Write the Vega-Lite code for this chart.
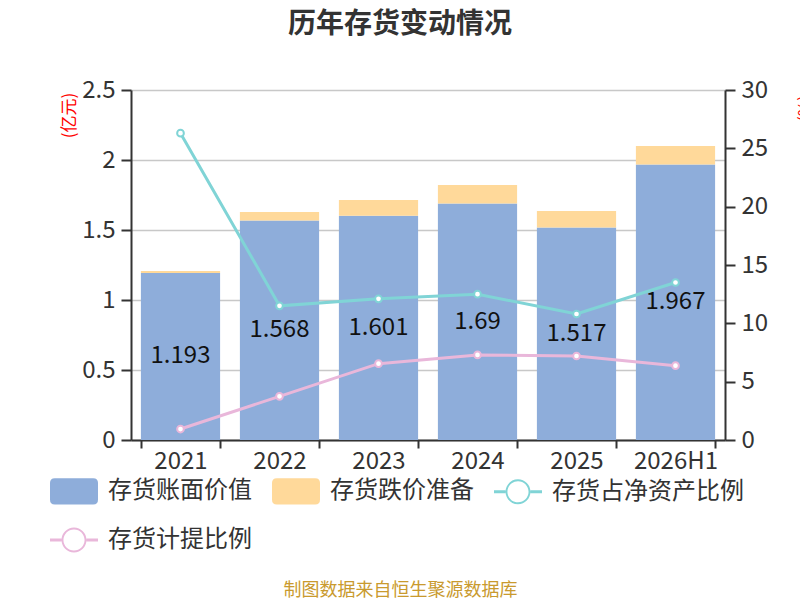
{
  "$schema": "https://vega.github.io/schema/vega-lite/v6.json",
  "autosize": {"type": "none"},
  "padding": {"left": 131, "top": 90, "right": 75, "bottom": 160},
  "width": 594,
  "height": 350,
  "background": "white",
  "title": {
    "text": "历年存货变动情况",
    "fontSize": 28,
    "fontWeight": "bold",
    "color": "#333333",
    "anchor": "middle",
    "dx": -28,
    "offset": 39
  },
  "config": {
    "font": "Noto Sans CJK SC",
    "view": {"stroke": null},
    "axis": {
      "labelFontSize": 24,
      "labelColor": "#333333",
      "domainColor": "#333333",
      "domainWidth": 2,
      "tickColor": "#333333",
      "tickWidth": 2
    }
  },
  "datasets": {
    "bars": [
      {"year": "2021", "type": "存货账面价值", "value": 1.193},
      {"year": "2021", "type": "存货跌价准备", "value": 0.014},
      {"year": "2022", "type": "存货账面价值", "value": 1.568},
      {"year": "2022", "type": "存货跌价准备", "value": 0.061},
      {"year": "2023", "type": "存货账面价值", "value": 1.601},
      {"year": "2023", "type": "存货跌价准备", "value": 0.113},
      {"year": "2024", "type": "存货账面价值", "value": 1.69},
      {"year": "2024", "type": "存货跌价准备", "value": 0.131},
      {"year": "2025", "type": "存货账面价值", "value": 1.517},
      {"year": "2025", "type": "存货跌价准备", "value": 0.119},
      {"year": "2026H1", "type": "存货账面价值", "value": 1.967},
      {"year": "2026H1", "type": "存货跌价准备", "value": 0.133}
    ],
    "ratios": [
      {"year": "2021", "type": "存货占净资产比例", "ratio": 26.3},
      {"year": "2022", "type": "存货占净资产比例", "ratio": 11.5},
      {"year": "2023", "type": "存货占净资产比例", "ratio": 12.1},
      {"year": "2024", "type": "存货占净资产比例", "ratio": 12.5},
      {"year": "2025", "type": "存货占净资产比例", "ratio": 10.8},
      {"year": "2026H1", "type": "存货占净资产比例", "ratio": 13.5},
      {"year": "2021", "type": "存货计提比例", "ratio": 0.94},
      {"year": "2022", "type": "存货计提比例", "ratio": 3.74},
      {"year": "2023", "type": "存货计提比例", "ratio": 6.54},
      {"year": "2024", "type": "存货计提比例", "ratio": 7.29},
      {"year": "2025", "type": "存货计提比例", "ratio": 7.2},
      {"year": "2026H1", "type": "存货计提比例", "ratio": 6.37}
    ]
  },
  "encoding": {
    "x": {
      "field": "year",
      "type": "nominal",
      "sort": null,
      "scale": {"paddingInner": 0.2, "paddingOuter": 0.1},
      "axis": {
        "title": "制图数据来自恒生聚源数据库",
        "titleFontSize": 18,
        "titleFontWeight": "normal",
        "titleColor": "#C99A2E",
        "titleX": 269,
        "titleY": 150,
        "titleBaseline": "middle",
        "titleAnchor": null,
        "labelAngle": 0,
        "labelPadding": 1,
        "tickSize": 8,
        "tickBand": "extent"
      }
    }
  },
  "layer": [
    {
      "layer": [
        {
          "data": {"name": "bars"},
          "mark": {"type": "bar"},
          "encoding": {
            "y": {
              "field": "value",
              "type": "quantitative",
              "stack": "zero",
              "scale": {"domain": [0, 2.5], "nice": false},
              "axis": {
                "values": [0, 0.5, 1, 1.5, 2, 2.5],
                "format": "~g",
                "grid": true,
                "gridColor": "#c8c8c8",
                "gridWidth": 1.5,
                "tickSize": 10,
                "labelPadding": 6,
                "title": "(亿元)",
                "titleColor": "#ff0000",
                "titleFontSize": 17,
                "titleFontWeight": "normal",
                "titleAngle": -90,
                "titleAlign": "center",
                "titleBaseline": "middle",
                "titleX": -62,
                "titleY": 25
              }
            },
            "color": {
              "field": "type",
              "type": "nominal",
              "scale": {
                "domain": ["存货账面价值", "存货跌价准备", "存货占净资产比例", "存货计提比例"],
                "range": ["#8EADDA", "#FFD99A", "#80D4D6", "#E9B7DA"]
              },
              "legend": {
                "title": null,
                "orient": "none",
                "legendX": -81,
                "legendY": 377,
                "direction": "horizontal",
                "columns": 3,
                "columnPadding": 20,
                "rowPadding": 11,
                "symbolSize": 2304,
                "labelFontSize": 24,
                "labelColor": "#333333",
                "labelOffset": 10,
                "labelLimit": 300,
                "encode": {
                  "symbols": {
                    "update": {
                      "shape": {"signal": "indexof(['存货账面价值','存货跌价准备'], datum.value) >= 0 ? 'M-0.8,-0.55 L0.8,-0.55 Q1,-0.55 1,-0.35 L1,0.35 Q1,0.55 0.8,0.55 L-0.8,0.55 Q-1,0.55 -1,0.35 L-1,-0.35 Q-1,-0.55 -0.8,-0.55 Z' : 'M-1,-0.06 L-0.52,-0.06 L-0.52,0.06 L-1,0.06 Z M0.52,-0.06 L1,-0.06 L1,0.06 L0.52,0.06 Z M0.52,0 A0.52,0.52 0 1 1 -0.52,0 A0.52,0.52 0 1 1 0.52,0 Z M0.44,0 A0.44,0.44 0 1 0 -0.44,0 A0.44,0.44 0 1 0 0.44,0 Z'"},
                      "fill": {"signal": "datum.value === '存货账面价值' ? '#8EADDA' : datum.value === '存货跌价准备' ? '#FFD99A' : datum.value === '存货占净资产比例' ? '#80D4D6' : '#E9B7DA'"},
                      "stroke": {"value": "transparent"},
                      "strokeWidth": {"value": 0},
                      "opacity": {"value": 1},
                      "fillOpacity": {"value": 1}
                    }
                  }
                }
              }
            },
            "order": {"field": "type", "sort": "ascending"}
          }
        },
        {
          "data": {"name": "bars"},
          "transform": [
            {"filter": "datum.type === '存货账面价值'"},
            {"calculate": "datum.value / 2", "as": "mid"}
          ],
          "mark": {"type": "text", "fontSize": 24, "color": "#111111"},
          "encoding": {
            "y": {"field": "mid", "type": "quantitative"},
            "text": {"field": "value", "type": "quantitative", "format": "~g"}
          }
        }
      ]
    },
    {
      "data": {"name": "ratios"},
      "layer": [
        {
          "mark": {"type": "line", "strokeWidth": 3},
          "encoding": {
            "y": {
              "field": "ratio",
              "type": "quantitative",
              "scale": {"domain": [0, 30], "nice": false},
              "axis": {
                "orient": "right",
                "values": [0, 5, 10, 15, 20, 25, 30],
                "grid": false,
                "tickSize": 10,
                "labelPadding": 6,
                "title": "(%)",
                "titleColor": "#ff0000",
                "titleFontSize": 17,
                "titleFontWeight": "normal",
                "titleAngle": -90,
                "titleAlign": "center",
                "titleBaseline": "middle",
                "titleX": 80,
                "titleY": 18
              }
            },
            "color": {"field": "type", "type": "nominal"}
          }
        },
        {
          "mark": {"type": "point", "filled": false, "fill": "#ffffff", "fillOpacity": 1, "opacity": 1, "size": 45, "strokeWidth": 2},
          "encoding": {
            "y": {"field": "ratio", "type": "quantitative"},
            "color": {"field": "type", "type": "nominal"}
          }
        }
      ]
    }
  ],
  "resolve": {"scale": {"y": "independent"}}
}
